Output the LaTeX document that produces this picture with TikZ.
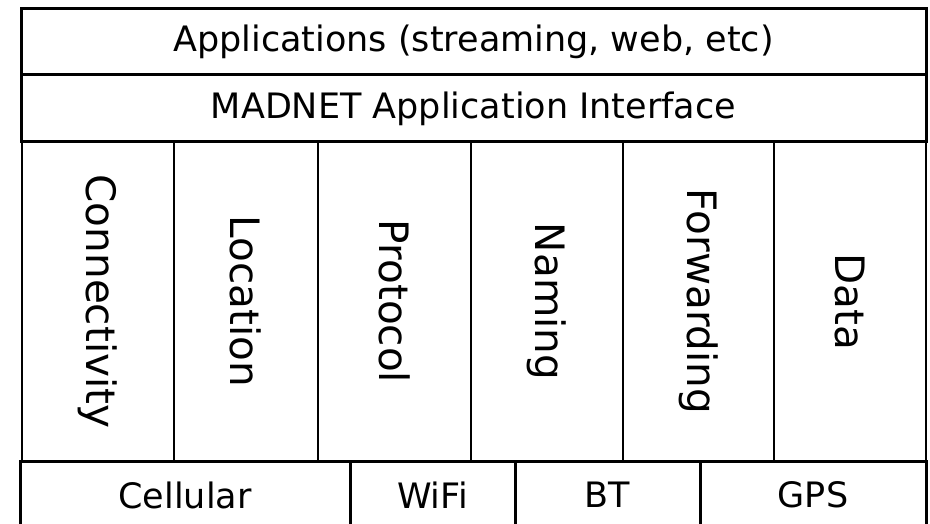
\documentclass[tikz,border=0pt]{standalone}
\usepackage{fontspec}
\setmainfont{DejaVu Sans}
\begin{document}
\begin{tikzpicture}[x=1pt,y=-1pt,
  cell/.style={draw=black, line width=3pt, inner sep=0pt, font=\fontsize{35}{40}\selectfont},
  col/.style={cell, line width=2pt, rotate=-90, minimum width=319pt, font=\fontsize{40.5}{46}\selectfont},
]
\useasboundingbox (0,0) rectangle (930,524);
\clip (0,0) rectangle (930,524);
\fill[white] (0,0) rectangle (930,524);
% columns
\node[col, minimum height=152pt] (conn) at (98,301.5) {Connectivity};
\node[col, minimum height=144pt] (loc) at (246,301.5) {Location};
\node[col, minimum height=153pt] (prot) at (394.5,301.5) {Protocol};
\node[col, minimum height=152pt] (nam) at (547,301.5) {Naming};
\node[col, minimum height=151pt] (fwd) at (698.5,301.5) {Forwarding};
\node[col, minimum height=152pt] (data) at (850,301.5) {Data};
% top rows
\node[cell, minimum width=905pt, minimum height=66pt] (apps) at (473.5,42) {Applications (streaming, web, etc)};
\node[cell, minimum width=905pt, minimum height=67pt] (api) at (473.5,108.5) {MADNET Application Interface};
% bottom row
\node[cell, minimum width=330pt, minimum height=68pt] (cell) at (185,495) {Cellular};
\node[cell, minimum width=165pt, minimum height=68pt] (wifi) at (432.5,495) {WiFi};
\node[cell, minimum width=185pt, minimum height=68pt] (bt) at (607.5,495) {BT};
\node[cell, minimum width=226pt, minimum height=68pt] (gps) at (813,495) {GPS};
\end{tikzpicture}
\end{document}
